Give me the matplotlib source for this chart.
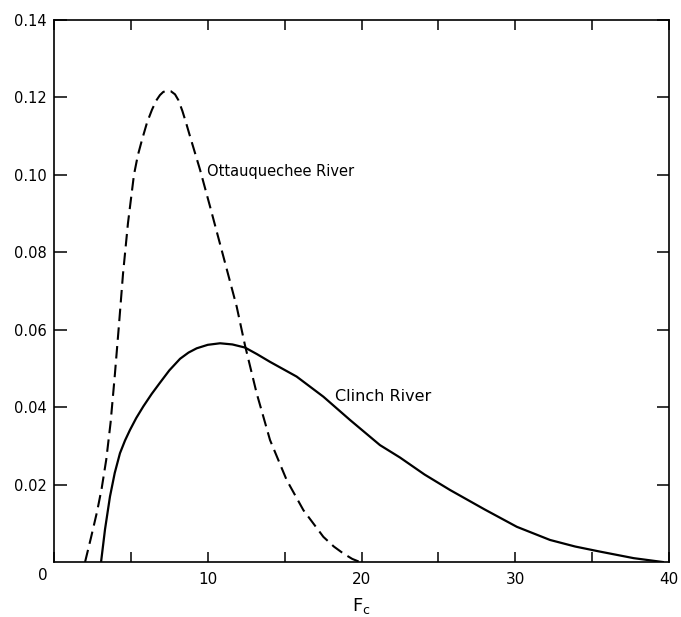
import matplotlib.pyplot as plt

# values
# Ottauquechee River (dashed)
ott_x = [2.02, 2.40, 2.80, 3.10, 3.40, 3.68, 3.95, 4.23, 4.49, 4.81, 5.20, 5.45, 5.72, 6.05,
         6.37, 6.65, 6.89, 7.10, 7.35, 7.60, 7.87, 8.09, 8.35, 8.60, 8.85, 9.50, 10.15,
         11.01, 11.88, 12.42, 13.18, 14.05, 15.13, 16.22, 17.52, 18.20, 18.82, 19.40, 19.90]
ott_y = [0.0, 0.0062, 0.0130, 0.0190, 0.0265, 0.0360, 0.0480, 0.0615, 0.0745, 0.0875,
         0.1000, 0.1050, 0.1090, 0.1135, 0.1168, 0.1192, 0.1206, 0.1214, 0.1218, 0.1216,
         0.1208, 0.1193, 0.1165, 0.1133, 0.1099, 0.1013, 0.0918, 0.0790, 0.0660, 0.0560,
         0.0436, 0.0315, 0.0212, 0.0134, 0.0065, 0.0040, 0.0022, 0.0008, 0.0]

# Clinch River (solid)
cli_x = [3.06, 3.32, 3.64, 3.95, 4.29, 4.62, 4.94, 5.35, 5.81, 6.35, 6.89, 7.50, 8.20, 8.75,
         9.28, 10.00, 10.80, 11.60, 12.42, 13.20, 14.05, 15.78, 17.52, 19.25, 21.20,
         22.50, 24.10, 25.76, 28.00, 30.10, 32.26, 33.90, 35.50, 37.70, 39.60]
cli_y = [0.0, 0.0085, 0.0169, 0.0230, 0.0281, 0.0314, 0.0341, 0.0372, 0.0402, 0.0434,
         0.0463, 0.0495, 0.0525, 0.0541, 0.0552, 0.0561, 0.0565, 0.0562, 0.0554, 0.0537,
         0.0517, 0.0479, 0.0427, 0.0367, 0.0302, 0.0270, 0.0226, 0.0186, 0.0136, 0.0091,
         0.0057, 0.0040, 0.0027, 0.0010, 0.0]

x_major = [0, 10, 20, 30, 40]
x_labels = ['', '10', '20', '30', '40']
y_ticks = [0.02, 0.04, 0.06, 0.08, 0.10, 0.12, 0.14]
y_labels = ['0.02', '0.04', '0.06', '0.08', '0.10', '0.12', '0.14']

fig = plt.figure(figsize=(6.81, 6.17), dpi=100)
ax = fig.add_axes([0.0793, 0.0891, 0.9031, 0.8785])

ax.plot(ott_x, ott_y, color='black', lw=1.5, linestyle=(0, (6, 3)))
ax.plot(cli_x, cli_y, color='black', lw=1.6)

ax.set_xlim(0, 40)
ax.set_ylim(0, 0.14)

ax.set_xticks(x_major)
ax.set_xticklabels(x_labels, fontsize=11)
ax.set_xticks([5, 15, 25, 35], minor=True)
ax.set_yticks(y_ticks)
ax.set_yticklabels(y_labels, fontsize=10.5)

ax.tick_params(axis='both', which='both', direction='in', top=True, right=True,
               width=1.1, color='black')
ax.tick_params(axis='x', which='both', length=7, pad=7)
ax.tick_params(axis='y', which='major', length=9, pad=5)

for s in ax.spines.values():
    s.set_linewidth(1.2)

# corner "0"
ax.annotate('0', xy=(0, 0), xytext=(-8, -9.5), textcoords='offset points',
            ha='center', va='center', fontsize=11)

ax.set_xlabel('F$_\\mathregular{c}$', fontsize=13, labelpad=7)

ax.text(9.93, 0.1008, 'Ottauquechee River', fontsize=10.5, va='center', ha='left')
ax.text(18.3, 0.0427, 'Clinch River', fontsize=11.5, va='center', ha='left')

fig.savefig('out.png', dpi=100)
